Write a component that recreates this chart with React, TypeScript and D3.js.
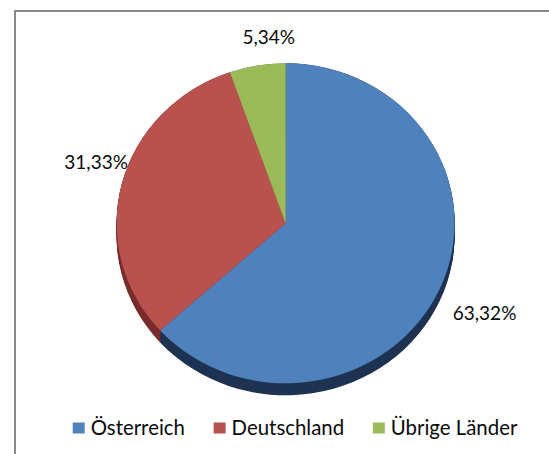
import React, { useEffect, useRef } from "react";
import * as d3 from "d3";

// ---- data ----
const categories = ["Österreich", "Deutschland", "Übrige Länder"];
const values = [63.32, 31.33, 5.34];
const valueLabels = ["63,32%", "31,33%", "5,34%"];

// ---- styles / layout ----
const topColors = ["#4F81BD", "#B9514E", "#9BBB59"];
const sideColors = ["#1F3352", "#7A2D2B", "#5D7435"];
const labelNudges = [
  [8, 9],
  [13, -11],
  [18, 11],
];
const W = 549;
const H = 454;
const FONT = "Lato, Carlito, Calibri, 'Open Sans', sans-serif";

export default function App() {
  const ref = useRef<SVGSVGElement | null>(null);

  useEffect(() => {
    const svg = d3.select(ref.current);
    svg.selectAll("*").remove();

    // chart border (right and bottom edges lie outside the picture)
    svg
      .append("rect")
      .attr("x", 15)
      .attr("y", 11)
      .attr("width", W + 20)
      .attr("height", H + 20)
      .attr("fill", "#fff")
      .attr("stroke", "#8A8A8A")
      .attr("stroke-width", 2);

    const cx = 285.6;
    const cy = 223.3;
    const ry = 160;
    const rx = 169;
    const sx = rx / ry;
    const depth = 12;

    const pie = d3
      .pie<number>()
      .sort(null)
      .value((d) => d);
    const arcs = pie(values);
    const arc = d3
      .arc<d3.PieArcDatum<number>>()
      .innerRadius(0)
      .outerRadius(ry);

    // side wall (stacked shifted copies)
    const side = svg
      .append("g")
      .attr("transform", `translate(${cx},${cy + depth}) scale(${sx},1)`);
    for (let k = depth; k >= 0; k -= 1) {
      side
        .append("g")
        .attr("transform", `translate(0,${k - depth})`)
        .selectAll("path")
        .data(arcs)
        .join("path")
        .attr("d", (d) => arc(d) as string)
        .attr("fill", (_, i) => sideColors[i]);
    }

    // top face
    svg
      .append("g")
      .attr("transform", `translate(${cx},${cy}) scale(${sx},1)`)
      .selectAll("path")
      .data(arcs)
      .join("path")
      .attr("d", (d) => arc(d) as string)
      .attr("fill", (_, i) => topColors[i]);

    // data labels
    const gap = 40;
    svg
      .append("g")
      .selectAll("text")
      .data(arcs)
      .join("text")
      .attr("x", (d, i) => {
        const a = (d.startAngle + d.endAngle) / 2;
        return cx + (rx + gap) * Math.sin(a) + labelNudges[i][0];
      })
      .attr("y", (d, i) => {
        const a = (d.startAngle + d.endAngle) / 2;
        return cy - (ry + gap) * Math.cos(a) + labelNudges[i][1];
      })
      .attr("text-anchor", "middle")
      .attr("dy", "0.36em")
      .attr("font-family", FONT)
      .attr("font-size", 19)
      .attr("fill", "#0a0a0a")
      .text((_, i) => valueLabels[i]);

    // legend
    const legend = svg.append("g");
    let x = 72.7;
    categories.forEach((c, i) => {
      legend
        .append("rect")
        .attr("x", x)
        .attr("y", 422.5)
        .attr("width", 12)
        .attr("height", 11)
        .attr("fill", topColors[i]);
      const t = legend
        .append("text")
        .attr("x", x + 18)
        .attr("y", 434.5)
        .attr("font-family", FONT)
        .attr("font-size", 20.4)
        .attr("fill", "#0a0a0a")
        .text(c);
      const w = (t.node() as SVGTextElement).getComputedTextLength();
      x = x + 18 + w + 28.7;
    });
  }, []);

  return (
    <svg
      ref={ref}
      width={W}
      height={H}
      style={{ position: "absolute", left: 0, top: 0, background: "#fff" }}
    />
  );
}
